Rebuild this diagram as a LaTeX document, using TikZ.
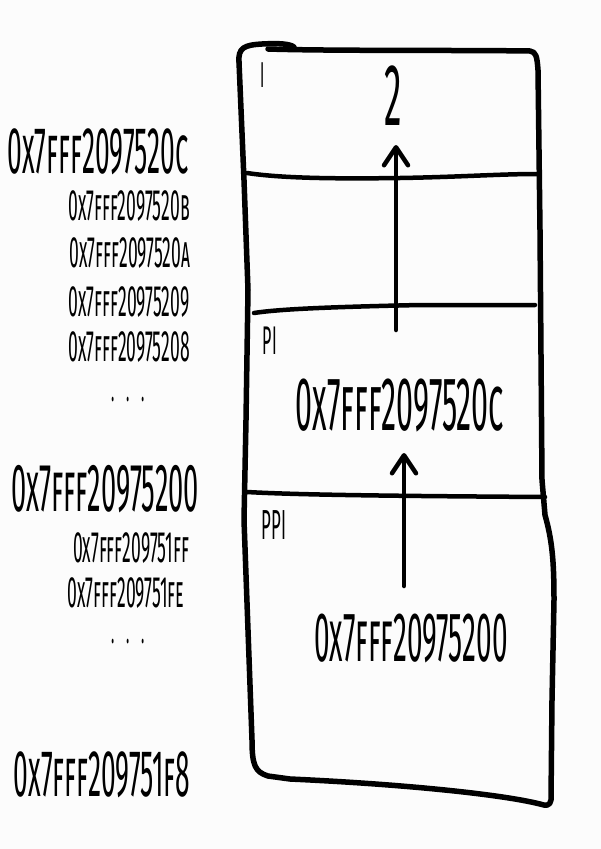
\documentclass[tikz,border=0pt]{standalone}
\usepackage{fontspec}
\setmainfont[FakeStretch=0.4]{Fira Sans}
\usetikzlibrary{arrows.meta}
\definecolor{bg}{RGB}{252,252,252}
\tikzset{
  lbl/.style={inner sep=0pt, font=\fontsize{#1}{#1}\selectfont\scshape},
  box/.style={line width=5.5pt, line cap=round, line join=round},
  divider/.style={line width=4.5pt, line cap=round},
  arr/.style={line width=4.5pt, line cap=round, -{Straight Barb[length=18pt,width=24pt,line width=4.5pt,round]}},
}
\begin{document}
\begin{tikzpicture}[x=1pt,y=-1pt]
\fill[bg] (0,0) rectangle (601,849);
\useasboundingbox (0,0) rectangle (601,849);
% left address labels
\node[lbl=66] (c)  at (98,152) {0x7fff2097520c};
\node[lbl=44] (b)  at (129,206) {0x7fff2097520b};
\node[lbl=44] (a)  at (130,253) {0x7fff2097520a};
\node[lbl=44] (n9) at (129,302) {0x7fff20975209};
\node[lbl=44] (n8) at (129,347) {0x7fff20975208};
\node[lbl=34,anchor=base] (d1) at (128,401) {.\hspace{12pt}.\hspace{12pt}.};
\node[lbl=68] (z0) at (105,489) {0x7fff20975200};
\node[lbl=44] (ff) at (131,548) {0x7fff209751ff};
\node[lbl=44] (fe) at (126,593) {0x7fff209751fe};
\node[lbl=34,anchor=base] (d2) at (128,643) {.\hspace{12pt}.\hspace{12pt}.};
\node[lbl=66] (f8) at (102,775) {0x7fff209751f8};
% box outline
\draw[box] (239,62) .. controls (238,48) and (244,45) .. (262,44)
  .. controls (280,43) and (290,44) .. (294,47);
\draw[box] (268,49) .. controls (330,51) and (460,50) .. (530,51)
  .. controls (536,52) and (537,56) .. (538,70)
  -- (540,230) -- (542,480) -- (545,515)
  .. controls (552,540) and (554,560) .. (554,600)
  -- (552,700) -- (551,800)
  .. controls (550,806) and (546,806) .. (540,804)
  .. controls (500,794) and (400,784) .. (290,779)
  -- (268,776)
  .. controls (255,772) and (252,765) .. (252,740)
  -- (244,520) -- (246,420) -- (248,290) -- (244,180) -- (239,62);
% dividers
\draw[divider] (247,173) .. controls (280,178) and (330,179) .. (400,178)
  .. controls (460,177) and (500,174) .. (537,174);
\draw[divider] (254,313) .. controls (280,309) and (330,307) .. (420,305)
  -- (535,305);
\draw[divider] (247,492) .. controls (300,495) and (400,496) .. (545,497);
% cell labels
\node[lbl=36] (I)   at (263,75)  {I};
\node[lbl=40] (PI)  at (270,341) {PI};
\node[lbl=42] (PPI) at (274,525) {PPI};
% cell values
\node[lbl=88] (two)   at (393,96)  {2};
\node[lbl=76] (pival) at (400,406) {0x7fff2097520c};
\node[lbl=70] (ppival) at (411,638) {0x7fff20975200};
% arrows
\coordinate (a1s) at (396,330);
\coordinate (a1e) at (396,145);
\coordinate (a2s) at (404,586);
\coordinate (a2e) at (404,453);
\draw[arr] (a1s) -- (a1e);
\draw[arr] (a2s) -- (a2e);
\end{tikzpicture}
\end{document}
